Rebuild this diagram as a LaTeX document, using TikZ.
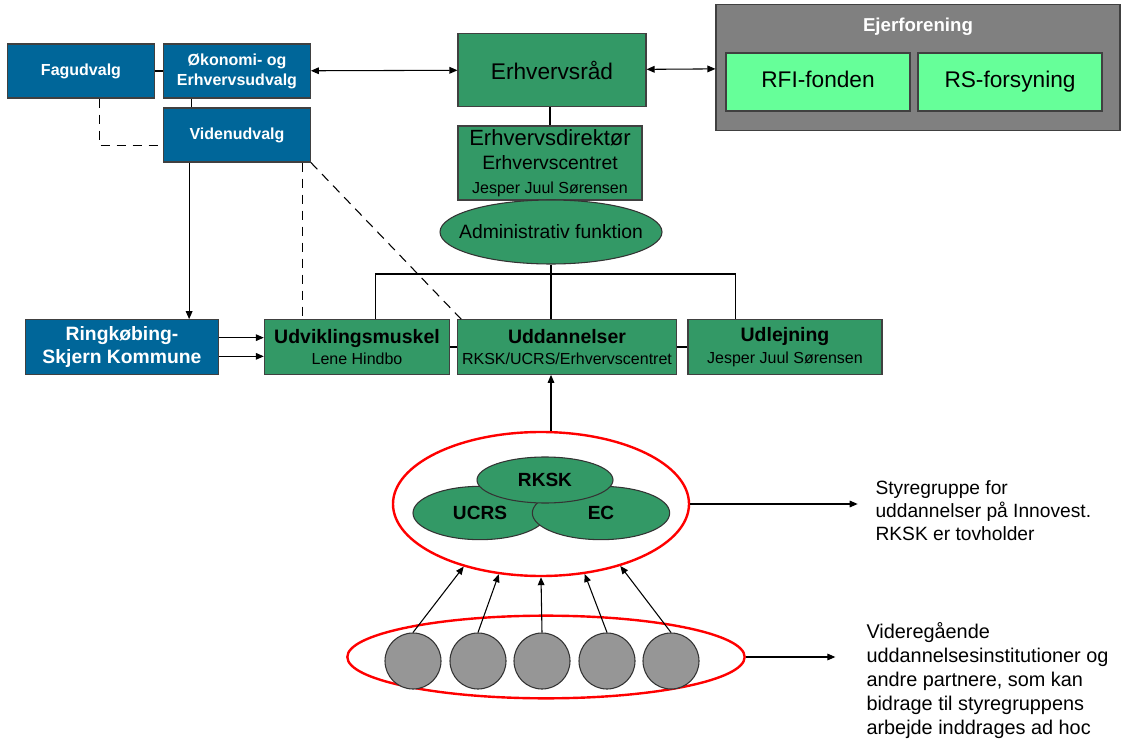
\documentclass[tikz,border=0pt]{standalone}
\usepackage{fontspec}
\setmainfont{Liberation Sans}
\usetikzlibrary{shapes.geometric,arrows.meta}
\definecolor{blaa}{RGB}{0,102,153}
\definecolor{groen}{RGB}{51,153,102}
\definecolor{lysgroen}{RGB}{102,255,153}
\definecolor{ejergraa}{RGB}{128,128,128}
\definecolor{partnergraa}{RGB}{150,150,150}

\begin{document}
\begin{tikzpicture}[x=0.75pt,y=-0.75pt,thick,>={Triangle[length=6pt,width=5pt]},
    udvalg/.style ={draw=black!75, fill=blaa, text=white, align=center, font=\fontsize{12}{15}\selectfont\bfseries, minimum width=110pt, minimum height=40.5pt, inner sep=1pt},
    enhed/.style ={draw=black!75, fill=groen, align=center, inner sep=1pt},
    afdeling/.style ={enhed, minimum height=41pt, font=\fontsize{14.6}{16}\selectfont\bfseries},
    fond/.style ={draw=black!75, fill=lysgroen, font=\fontsize{17}{19}\selectfont, text height=12.5pt, text depth=3.5pt, minimum width=138pt, minimum height=43.5pt},
    kerne/.style ={ellipse, draw=black!80, fill=groen, font=\fontsize{14.3}{16}\selectfont\bfseries, inner sep=0pt},
    partner/.style ={circle, draw=black!80, fill=partnergraa, minimum size=42pt, inner sep=0pt},
    ramme/.style ={ellipse, draw=red, line width=1.8pt, inner sep=0pt},
    stiplet/.style ={dash pattern=on 7pt off 5pt},
    note/.style ={align=left, anchor=west, inner sep=0pt}]

   \useasboundingbox (0,0) rectangle (1122,742);

   \node[udvalg] (fag) at (81,71) {Fagudvalg};
   \node[udvalg] (oko) at (237,71) {Økonomi- og\\Erhvervsudvalg};
   \node[udvalg] (viden) at (237,135) {Videnudvalg};
   \node[udvalg, minimum width=145pt, minimum height=41pt, font=\fontsize{14.5}{17.5}\selectfont\bfseries] (ring) at (122,347) {Ringkøbing-\\Skjern Kommune};

   \node[enhed, minimum width=141pt, minimum height=55pt, font=\fontsize{17}{19}\selectfont] (raad) at (552,70) {Erhvervsråd};
   \node[draw=black!75, fill=ejergraa, minimum width=303pt, minimum height=94pt] (ejer) at (918,67.5) {};
   \node[text=white, font=\fontsize{14}{16}\selectfont\bfseries] (ejertitel) at (918,27) {Ejerforening};
   \node[fond] (rfi) at (818,82) {RFI-fonden};
   \node[fond] (rs) at (1010,82) {RS-forsyning};

   \node[enhed, minimum width=138pt, minimum height=55.5pt, font=\fontsize{16.5}{18}\selectfont] (direktor) at (550,163) {Erhvervsdirektør\\{\fontsize{14.5}{17}\selectfont Erhvervscentret}\\{\fontsize{12}{14}\selectfont Jesper Juul Sørensen}};
   \node[ellipse, draw=black!80, fill=groen, minimum width=166.5pt, minimum height=48pt, inner xsep=-11pt, inner ysep=0pt, font=\fontsize{14.5}{17}\selectfont] (admin) at (551,232) {Administrativ funktion};

   \node[afdeling, minimum width=139pt] (udv) at (357,347) {Udviklingsmuskel\\{\fontsize{12}{14}\selectfont\mdseries Lene Hindbo}};
   \node[afdeling, minimum width=164pt] (uddan) at (567,347) {Uddannelser\\{\fontsize{12}{14}\selectfont\mdseries RKSK/UCRS/Erhvervscentret}};
   \node[afdeling, minimum width=145.5pt] (udl) at (785,347) {Udlejning\\{\fontsize{12}{14}\selectfont\mdseries Jesper Juul Sørensen}};

   % styregruppe
   \node[ramme, minimum width=222pt, minimum height=108pt] (styre) at (541,504) {};
   \node[kerne, minimum width=100.5pt, minimum height=40pt] (ucrs) at (480,513) {UCRS};
   \node[kerne, minimum width=103pt, minimum height=40pt] (ec) at (601,513) {EC};
   \node[kerne, minimum width=102pt, minimum height=34.5pt] (rksk) at (545,480) {RKSK};

   % partnere
   \node[ramme, minimum width=298pt, minimum height=62pt] (bred) at (546,657) {};
   \foreach \x [count=\i] in {413,478,542,607,671}
      \node[partner] (p\i) at (\x,661) {};

   \node[note, font=\fontsize{14.4}{17.25}\selectfont] (styretekst) at (875,511) {Styregruppe for\\uddannelser på Innovest.\\RKSK er tovholder};
   \node[note, font=\fontsize{14.9}{18}\selectfont] (partnertekst) at (866,681) {Videregående\\uddannelsesinstitutioner og\\andre partnere, som kan\\bidrage til styregruppens\\arbejde inddrages ad hoc};

   \draw (fag) -- (oko);
   \draw ([xshift=21pt]oko.south west) -- ([xshift=21pt]viden.north west);
   \draw[<->] (oko) -- (raad);
   \draw[<->] (raad) -- (ejer);
   \draw ([xshift=-1.5pt]raad.south) -- ([xshift=-1.5pt]raad.south |- direktor.north);

   \draw[->] ([xshift=19.5pt]viden.south west) -- ([xshift=19.5pt]viden.south west |- ring.north);
   \draw[stiplet] ([xshift=14pt]fag.south) |- ([yshift=-8pt]viden.west);
   \draw[stiplet] ([xshift=49pt]viden.south) -- ([xshift=49pt]viden.south |- udv.north);
   \draw[stiplet] (viden.south east) -- ([xshift=3pt]uddan.north west);
   \draw[->] ([yshift=7pt]ring.east) -- ([yshift=7pt]udv.west);
   \draw[->] ([yshift=-7pt]ring.east) -- ([yshift=-7pt]udv.west);

   \coordinate (skinne) at (551,274);
   \draw (admin.south) -- (admin.south |- uddan.north);
   \draw ([xshift=14pt]udv.north) |- (skinne) -| ([xshift=-37pt]udl.north);
   \draw (udv) -- (uddan);
   \draw (uddan) -- (udl);

   \draw[->] ([xshift=7.5pt]styre.north) -- ([xshift=7.5pt]styre.north |- uddan.south);
   \draw[->, shorten >=13pt] (styre.east) -- (styre.east -| styretekst.west);
   \foreach \i/\v in {1/219,2/239,3/270,4/302,5/322}
      \draw[->] (p\i.north) -- (styre.\v);
   \draw[->, shorten >=23pt] (bred.east) -- (bred.east -| partnertekst.west);
\end{tikzpicture}
\end{document}
